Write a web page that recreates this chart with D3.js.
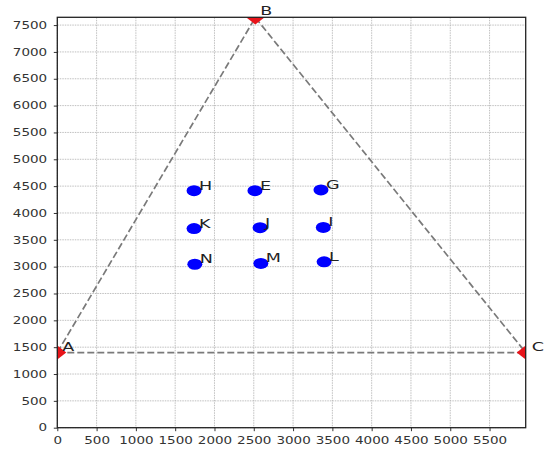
<!DOCTYPE html>
<html>
<head>
<meta charset="utf-8">
<script src="https://cdn.jsdelivr.net/npm/d3@7"></script>
<style>
  body { margin: 0; background: #fff; }
  text { font-family: "DejaVu Sans", sans-serif; }
</style>
</head>
<body>
<div id="chart"></div>
<script>
// triangle corners
var vertexNames = ["A", "B", "C"];
var vertexX = [0, 2520, 5960];
var vertexY = [1400, 7640, 1400];

// inner points
var pointNames = ["H", "E", "G", "K", "J", "I", "N", "M", "L"];
var pointX = [1740, 2515, 3355, 1740, 2580, 3385, 1750, 2590, 3395];
var pointY = [4415, 4415, 4430, 3710, 3725, 3730, 3045, 3060, 3090];

var xTicks = [0, 500, 1000, 1500, 2000, 2500, 3000, 3500, 4000, 4500, 5000, 5500];
var yTicks = [0, 500, 1000, 1500, 2000, 2500, 3000, 3500, 4000, 4500, 5000, 5500, 6000, 6500, 7000, 7500];

var svgWidth = 550;
var svgHeight = 450;
var plot = { left: 57.3, right: 525.7, top: 17.3, bottom: 427.7 };
var stretch = 1.35; // the figure is wider than tall, text looks stretched

var svg = d3.select("#chart")
  .append("svg")
  .attr("width", svgWidth)
  .attr("height", svgHeight);

var xScale = d3.scaleLinear().domain([0, 5960]).range([plot.left, plot.right]);
var yScale = d3.scaleLinear().domain([0, 7645]).range([plot.bottom, plot.top]);

svg.append("clipPath").attr("id", "plotclip")
  .append("rect")
  .attr("x", plot.left).attr("y", plot.top)
  .attr("width", plot.right - plot.left).attr("height", plot.bottom - plot.top);

// grid
var grid = svg.append("g");
grid.selectAll(".gx").data(xTicks).enter().append("line")
  .attr("x1", d => xScale(d)).attr("x2", d => xScale(d))
  .attr("y1", plot.top).attr("y2", plot.bottom)
  .attr("stroke", "#b0b0b0").attr("stroke-width", 0.8).attr("stroke-dasharray", "1.5,1");
grid.selectAll(".gy").data(yTicks).enter().append("line")
  .attr("y1", d => yScale(d)).attr("y2", d => yScale(d))
  .attr("x1", plot.left).attr("x2", plot.right)
  .attr("stroke", "#b0b0b0").attr("stroke-width", 0.8).attr("stroke-dasharray", "1.5,1");

// axes
var fmt = d3.format("d");
var xAxis = svg.append("g")
  .attr("transform", `translate(0, ${plot.bottom})`)
  .call(d3.axisBottom(xScale).tickValues(xTicks).tickFormat(fmt).tickSize(3.5).tickPadding(4));
var yAxis = svg.append("g")
  .attr("transform", `translate(${plot.left}, 0)`)
  .call(d3.axisLeft(yScale).tickValues(yTicks).tickFormat(fmt).tickSize(3.5).tickPadding(4));

[xAxis, yAxis].forEach(function(ax) {
  ax.select(".domain").remove();
  ax.selectAll("line").attr("stroke", "#333");
  ax.selectAll("text")
    .attr("font-size", 10)
    .attr("fill", "#333")
    .attr("font-family", "DejaVu Sans")
    .attr("transform", `scale(${stretch},1)`);
});
xAxis.selectAll("text").attr("dy", "0.9em");

var plotArea = svg.append("g").attr("clip-path", "url(#plotclip)");

// triangle edges
var edges = [[0, 1], [1, 2], [0, 2]];
plotArea.selectAll(".edge").data(edges).enter().append("line")
  .attr("x1", d => xScale(vertexX[d[0]])).attr("y1", d => yScale(vertexY[d[0]]))
  .attr("x2", d => xScale(vertexX[d[1]])).attr("y2", d => yScale(vertexY[d[1]]))
  .attr("stroke", "#7a7a7a").attr("stroke-width", 1.7).attr("stroke-dasharray", "7,3");

// red diamonds on the corners
plotArea.selectAll(".vertex").data(vertexNames).enter().append("path")
  .attr("d", function(d, i) {
    var cx = xScale(vertexX[i]), cy = yScale(vertexY[i]);
    return `M${cx},${cy - 7}L${cx + 9},${cy}L${cx},${cy + 7}L${cx - 9},${cy}Z`;
  })
  .attr("fill", "#e8141a");

// blue points
plotArea.selectAll(".pt").data(pointNames).enter().append("ellipse")
  .attr("cx", (d, i) => xScale(pointX[i]))
  .attr("cy", (d, i) => yScale(pointY[i]))
  .attr("rx", 7.5).attr("ry", 5.5)
  .attr("fill", "#0000ff");

// labels
function addLabel(name, x, y) {
  svg.append("text")
    .attr("transform", `translate(${x},${y}) scale(${stretch},1)`)
    .attr("font-size", 13)
    .attr("fill", "#222")
    .text(name);
}
pointNames.forEach(function(d, i) {
  addLabel(d, xScale(pointX[i]) + 5, yScale(pointY[i]) - 1);
});
addLabel(vertexNames[0], xScale(vertexX[0]) + 5, yScale(vertexY[0]) - 2);
addLabel(vertexNames[1], xScale(vertexX[1]) + 5, yScale(vertexY[1]) - 3);
addLabel(vertexNames[2], xScale(vertexX[2]) + 6, yScale(vertexY[2]) - 2);

// frame
svg.append("rect")
  .attr("x", plot.left).attr("y", plot.top)
  .attr("width", plot.right - plot.left).attr("height", plot.bottom - plot.top)
  .attr("fill", "none").attr("stroke", "#222").attr("stroke-width", 1.3);
</script>
</body>
</html>
